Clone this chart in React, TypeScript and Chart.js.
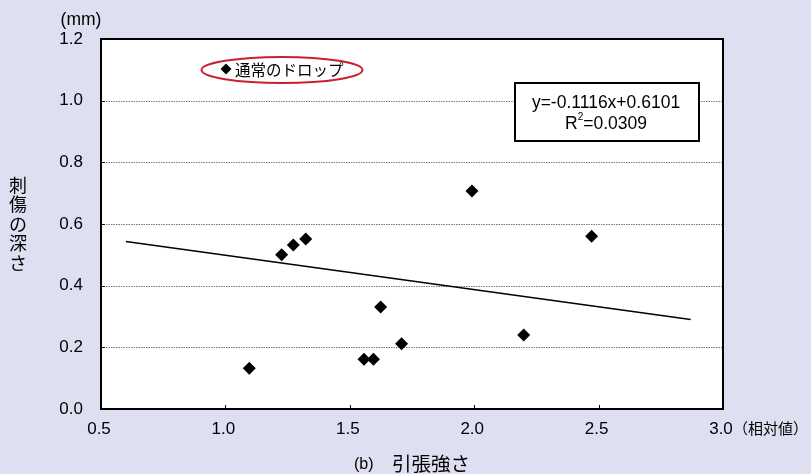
import React, { useEffect, useRef } from "react";
import { Chart, registerables } from "chart.js";

Chart.register(...registerables);

const pointX = [1.096, 1.226, 1.273, 1.323, 1.557, 1.595, 1.624, 1.708, 1.991, 2.199, 2.472];
const pointY = [0.132, 0.5, 0.532, 0.551, 0.161, 0.161, 0.331, 0.212, 0.707, 0.24, 0.56];
const trendX = [0.6, 2.87];
const trendY = [0.543, 0.29];
const xTicks = [0.5, 1.0, 1.5, 2.0, 2.5, 3.0];
const yTicks = [0.0, 0.2, 0.4, 0.6, 0.8, 1.0, 1.2];
const seriesName = "通常のドロップ";
const equationText = "y=-0.1116x+0.6101";
const r2Text = "=0.0309";
const yTitle = ["刺", "傷", "の", "深", "さ"];
const yUnit = "(mm)";
const xUnit = "（相対値）";
const xTitle = "引張強さ";
const panelLabel = "(b)";

const FONT = "'Liberation Sans', Arial, sans-serif";
const JFONT = "'Noto Sans CJK JP', 'Liberation Sans', sans-serif";
const BG = "#dedff0";

const decorPlugin = {
  id: "decor",
  beforeDraw(chart: any) {
    const { ctx, width, height } = chart;
    ctx.save();
    ctx.fillStyle = BG;
    ctx.fillRect(0, 0, width, height);
    ctx.restore();
  },
  beforeDatasetsDraw(chart: any) {
    const { ctx, chartArea } = chart;
    const xs = chart.scales.x;
    const ys = chart.scales.y;
    const { left, right, top, bottom } = chartArea;
    ctx.save();
    ctx.fillStyle = "#ffffff";
    ctx.fillRect(left, top, right - left, bottom - top);
    ctx.strokeStyle = "#7a7a7a";
    ctx.lineWidth = 1;
    ctx.setLineDash([1.5, 1]);
    yTicks.forEach((v) => {
      if (v <= 0 || v >= 1.2) return;
      const y = Math.round(ys.getPixelForValue(v)) + 0.5;
      ctx.beginPath();
      ctx.moveTo(left, y);
      ctx.lineTo(right, y);
      ctx.stroke();
    });
    ctx.setLineDash([]);
    ctx.strokeStyle = "#000";
    ctx.lineWidth = 1;
    yTicks.forEach((v) => {
      const y = Math.round(ys.getPixelForValue(v)) + 0.5;
      ctx.beginPath();
      ctx.moveTo(left, y);
      ctx.lineTo(left + 4, y);
      ctx.stroke();
    });
    xTicks.forEach((v) => {
      const x = Math.round(xs.getPixelForValue(v)) + 0.5;
      ctx.beginPath();
      ctx.moveTo(x, bottom);
      ctx.lineTo(x, bottom - 4);
      ctx.stroke();
    });
    ctx.lineWidth = 2;
    ctx.strokeRect(left, top, right - left, bottom - top);
    ctx.restore();
  },
  afterDraw(chart: any) {
    const { ctx } = chart;
    ctx.save();
    // legend ellipse
    ctx.strokeStyle = "#c8202c";
    ctx.lineWidth = 2;
    ctx.beginPath();
    ctx.ellipse(282, 70, 80.5, 13, 0, 0, Math.PI * 2);
    ctx.stroke();
    ctx.fillStyle = "#000";
    ctx.beginPath();
    ctx.moveTo(226, 63.5);
    ctx.lineTo(231.5, 69);
    ctx.lineTo(226, 74.5);
    ctx.lineTo(220.5, 69);
    ctx.closePath();
    ctx.fill();
    ctx.font = "15.5px " + JFONT;
    ctx.textBaseline = "middle";
    ctx.textAlign = "left";
    ctx.fillText(seriesName, 235, 70);

    // equation box
    ctx.fillStyle = "#fff";
    ctx.fillRect(515, 83, 184, 58);
    ctx.strokeStyle = "#000";
    ctx.lineWidth = 2;
    ctx.strokeRect(515, 83, 184, 58);
    ctx.fillStyle = "#000";
    ctx.font = "17.5px " + FONT;
    ctx.textAlign = "center";
    ctx.fillText(equationText, 606, 103);
    ctx.textAlign = "left";
    const wR = ctx.measureText("R").width;
    ctx.font = "10px " + FONT;
    const w2 = ctx.measureText("2").width;
    ctx.font = "17.5px " + FONT;
    const wRest = ctx.measureText(r2Text).width;
    const total = wR + w2 + wRest;
    let sx = 606 - total / 2;
    ctx.fillText("R", sx, 124);
    sx += wR;
    ctx.font = "10px " + FONT;
    ctx.fillText("2", sx, 117);
    sx += w2;
    ctx.font = "17.5px " + FONT;
    ctx.fillText(r2Text, sx, 124);

    // y title vertical
    ctx.font = "18px " + JFONT;
    ctx.textAlign = "center";
    yTitle.forEach((ch, i) => {
      ctx.fillText(ch, 18, 185 + i * 19.5);
    });
    ctx.font = "17.5px " + FONT;
    ctx.textAlign = "center";
    ctx.fillText(yUnit, 81, 20);
    ctx.font = "15px " + JFONT;
    ctx.textAlign = "left";
    ctx.fillText(xUnit, 733, 428);
    ctx.font = "16px " + FONT;
    ctx.textAlign = "left";
    ctx.fillText(panelLabel, 354, 465);
    ctx.font = "19.5px " + JFONT;
    ctx.fillText(xTitle, 392, 464);
    ctx.restore();
  },
};

export default function App() {
  const canvasRef = useRef<HTMLCanvasElement | null>(null);
  useEffect(() => {
    const canvas = canvasRef.current;
    if (!canvas) return;
    const chart = new Chart(canvas, {
      type: "scatter",
      data: {
        datasets: [
          {
            type: "scatter",
            label: seriesName,
            data: pointX.map((x, i) => ({ x, y: pointY[i] })),
            pointStyle: "rectRot",
            pointRadius: 6.5,
            pointHoverRadius: 6.5,
            backgroundColor: "#000",
            borderColor: "#000",
            borderWidth: 0,
          },
          {
            type: "line",
            label: "trend",
            data: trendX.map((x, i) => ({ x, y: trendY[i] })),
            borderColor: "#000",
            borderWidth: 1.5,
            pointRadius: 0,
            fill: false,
          },
        ],
      },
      options: {
        animation: false,
        responsive: false,
        maintainAspectRatio: false,
        layout: { padding: { top: 39, right: 88, left: 0, bottom: 0 } },
        plugins: { legend: { display: false }, tooltip: { enabled: false } },
        scales: {
          x: {
            type: "linear",
            min: 0.5,
            max: 3.0,
            afterFit: (s: any) => {
              s.height = 65;
            },
            afterBuildTicks: (s: any) => {
              s.ticks = xTicks.map((v) => ({ value: v }));
            },
            grid: { display: false, drawTicks: false },
            border: { display: false },
            ticks: {
              padding: 10,
              labelOffset: -2,
              color: "#000",
              font: { family: FONT, size: 17 },
              callback: (v: any) => Number(v).toFixed(1),
            },
          },
          y: {
            type: "linear",
            min: 0,
            max: 1.2,
            afterFit: (s: any) => {
              s.width = 101;
            },
            afterBuildTicks: (s: any) => {
              s.ticks = yTicks.map((v) => ({ value: v }));
            },
            grid: { display: false, drawTicks: false },
            border: { display: false },
            ticks: {
              padding: 18,
              color: "#000",
              font: { family: FONT, size: 17 },
              callback: (v: any) => Number(v).toFixed(1),
            },
          },
        },
      },
      plugins: [decorPlugin],
    });
    return () => chart.destroy();
  }, []);
  return (
    <div style={{ position: "fixed", left: 0, top: 0, width: 811, height: 474 }}>
      <canvas ref={canvasRef} width={811} height={474} style={{ width: 811, height: 474, display: "block" }} />
    </div>
  );
}
